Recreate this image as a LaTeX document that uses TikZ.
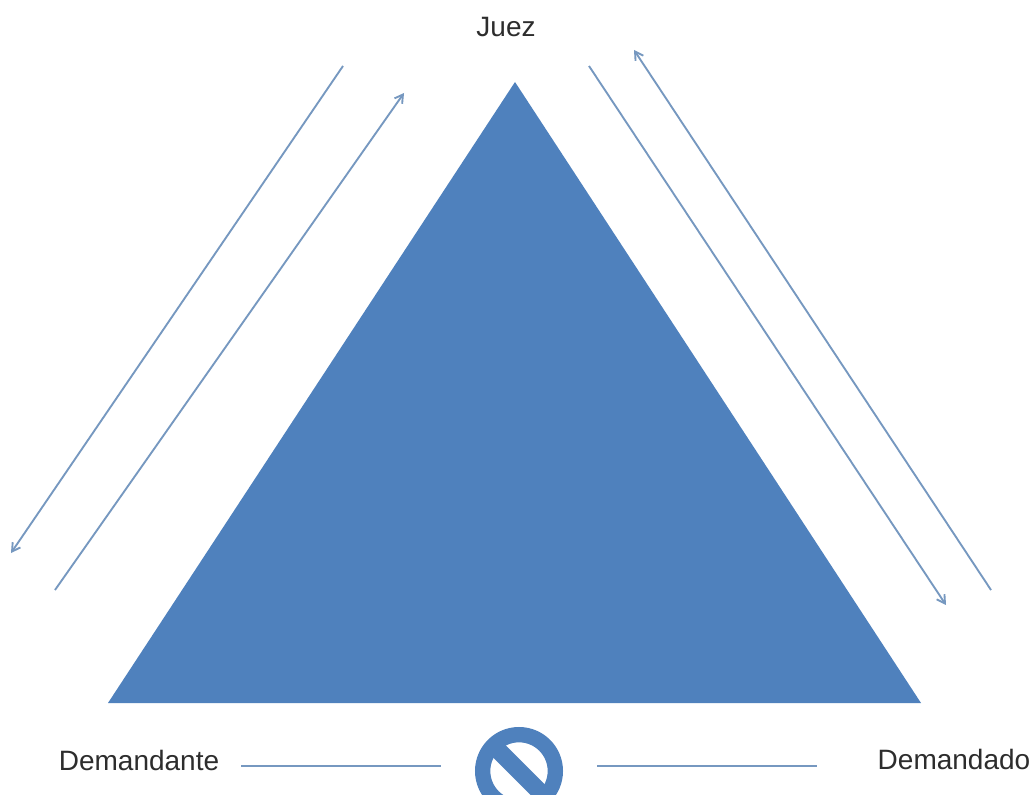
\documentclass[tikz,border=0pt]{standalone}
\usepackage{fontspec}
\setmainfont{Liberation Sans}
\usetikzlibrary{arrows.meta}
\definecolor{triblue}{RGB}{79,129,189}
\definecolor{linkblue}{RGB}{118,152,192}
\definecolor{ink}{RGB}{45,45,45}
\tikzset{
 px/.style={x=0.75pt,y=-0.75pt},
 link/.style={draw=linkblue,line width=1.4pt},
 linkarrow/.style={link,-{Straight Barb[length=6pt,width=7pt]}},
 lab/.style={text=ink,font=\fontsize{21}{24}\selectfont,inner sep=0pt,anchor=center}
}
\begin{document}
\begin{tikzpicture}[px]
\useasboundingbox (0,0) rectangle (1035,795);
\fill[white] (0,0) rectangle (1035,795);
\fill[triblue] (515,82) -- (921,703) -- (108,703) -- cycle;
\node[lab] (juez) at (506,27) {Juez};
\node[lab] (demandante) at (139,760) {Demandante};
\node[lab] (demandado) at (954,759) {Demandado};
\coordinate (a1) at (343,66); \coordinate (a2) at (11,553);
\coordinate (b1) at (55,590); \coordinate (b2) at (404,93);
\coordinate (c1) at (589,66); \coordinate (c2) at (946,605);
\coordinate (d1) at (991,590); \coordinate (d2) at (634,50);
\draw[linkarrow] (a1) -- (a2);
\draw[linkarrow] (b1) -- (b2);
\draw[linkarrow] (c1) -- (c2);
\draw[linkarrow] (d1) -- (d2);
\coordinate (e1) at (241,766); \coordinate (e2) at (441,766);
\coordinate (f1) at (597,766); \coordinate (f2) at (817,766);
\draw[link] (e1) -- (e2);
\draw[link] (f1) -- (f2);
\node[circle,draw=triblue,line width=11.5pt,minimum size=54.5pt,inner sep=0pt,outer sep=0pt] (no) at (519,771) {};
\draw[triblue,line width=13pt] (no.135) -- (no.-45);
\end{tikzpicture}
\end{document}
